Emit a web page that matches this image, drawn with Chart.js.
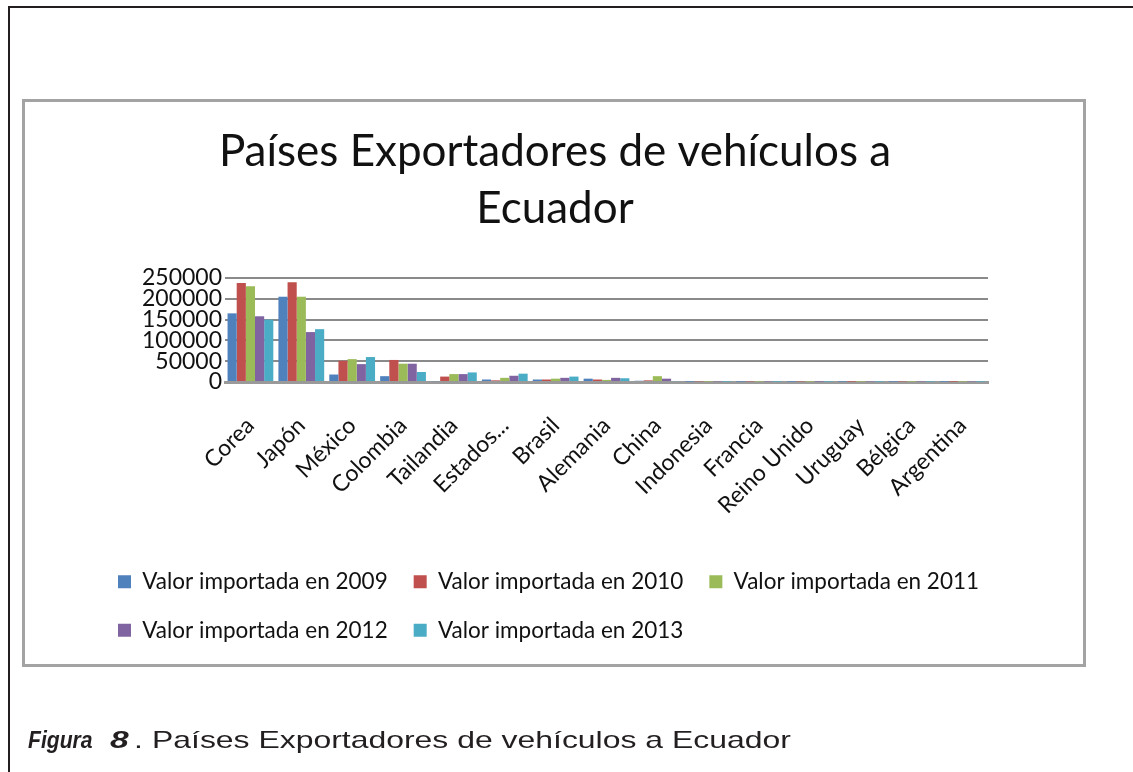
<!DOCTYPE html>
<html lang="es">
<head>
<meta charset="utf-8">
<title>Países Exportadores de vehículos a Ecuador</title>
<script src="https://cdn.jsdelivr.net/npm/chart.js@4.4.1/dist/chart.umd.min.js"></script>
<style>
  html, body { margin: 0; padding: 0; background: #fff; }
  body { width: 1133px; height: 772px; position: relative; overflow: hidden; font-family: 'Liberation Sans', Arial, sans-serif; color: #231f20; }
  .marco { position: absolute; left: 8px; top: 6px; width: 1300px; height: 900px; border-left: 2px solid #231f20; border-top: 2px solid #231f20; }
  .caja { position: absolute; left: 22px; top: 99px; width: 1064px; height: 568px; box-sizing: border-box; border: 3px solid #a3a3a3; }
  #grafico { position: absolute; left: 0; top: 0; }
  .pie { position: absolute; top: 728px; font-size: 24px; line-height: 24px; white-space: nowrap; transform-origin: left top; }
  .pie.fig { left: 28px; font-weight: bold; font-style: italic; transform: scaleX(0.88); }
  .pie.num { left: 110px; font-weight: bold; font-style: italic; transform: scaleX(1.4); }
  .pie.pto { left: 134px; transform: scaleX(1.33); }
  .pie.txt { left: 152px; transform: scaleX(1.33); }
</style>
</head>
<body>
<div class="marco"></div>
<div class="caja"></div>
<canvas id="grafico" width="1133" height="772"></canvas>
<span class="pie fig">Figura</span>
<span class="pie num">8</span>
<span class="pie pto">.</span>
<span class="pie txt">Países Exportadores de vehículos a Ecuador</span>

<script>
// Datos
const paises = ['Corea', 'Japón', 'México', 'Colombia', 'Tailandia', 'Estados...', 'Brasil',
  'Alemania', 'China', 'Indonesia', 'Francia', 'Reino Unido', 'Uruguay', 'Bélgica', 'Argentina'];

const valor2009 = [165000, 205000, 18000, 14000, 2000, 6000, 6000, 8000, 3000, 1000, 1000, 1000, 1000, 1000, 1000];
const valor2010 = [238000, 240000, 51000, 53000, 13000, 4000, 6000, 6000, 4000, 1500, 1500, 1500, 1000, 1500, 1000];
const valor2011 = [230000, 205000, 55000, 44000, 19000, 10000, 8000, 5000, 14000, 1000, 1000, 1000, 1000, 1000, 1000];
const valor2012 = [158000, 120000, 43000, 44000, 19000, 15000, 10000, 10000, 8000, 1500, 1500, 1000, 1500, 1500, 1500];
const valor2013 = [150000, 127000, 60000, 24000, 23000, 20000, 13000, 9000, 2000, 1000, 1000, 1000, 1000, 1000, 1000];

const ticksEje = [0, 50000, 100000, 150000, 200000, 250000];

const series = [
  { label: 'Valor importada en 2009', data: valor2009, color: '#4F81BD' },
  { label: 'Valor importada en 2010', data: valor2010, color: '#C0504D' },
  { label: 'Valor importada en 2011', data: valor2011, color: '#9BBB59' },
  { label: 'Valor importada en 2012', data: valor2012, color: '#8064A2' },
  { label: 'Valor importada en 2013', data: valor2013, color: '#4BACC6' }
];

Chart.defaults.font.family = 'Lato, "Open Sans", sans-serif';
Chart.defaults.color = '#111';

const ctx = document.getElementById('grafico').getContext('2d');

new Chart(ctx, {
  type: 'bar',
  data: {
    labels: paises,
    datasets: series.map(s => ({
      label: s.label,
      data: s.data,
      backgroundColor: s.color,
      borderWidth: 0,
      categoryPercentage: 0.9,
      barPercentage: 1.0
    }))
  },
  options: {
    responsive: false,
    animation: false,
    layout: {
      padding: { left: 92, right: 115, top: 0, bottom: 120.5 }
    },
    scales: {
      x: {
        grid: { display: false },
        border: { display: true, color: '#9a9a9a', width: 3 },
        ticks: {
          autoSkip: false,
          maxRotation: 45,
          minRotation: 45,
          padding: 22,
          font: { size: 23 }
        },
        afterFit: scale => { scale.height = 162.5; }
      },
      y: {
        min: ticksEje[0],
        max: ticksEje[ticksEje.length - 1],
        grid: { color: '#8a8a8a', lineWidth: 2, drawTicks: false },
        border: { display: false },
        ticks: {
          stepSize: ticksEje[1] - ticksEje[0],
          autoSkip: false,
          padding: 3,
          font: { size: 23 },
          callback: value => String(value)
        },
        afterFit: scale => { scale.width = 133; }
      },
      derecha: {
        type: 'linear',
        position: 'right',
        display: true,
        grid: { display: false },
        border: { display: false },
        ticks: { display: false },
        afterFit: scale => { scale.width = 30; }
      }
    },
    plugins: {
      title: {
        display: true,
        text: ['Países Exportadores de vehículos a', 'Ecuador'],
        color: '#111',
        font: { size: 44, weight: 'normal', lineHeight: '57px' },
        padding: { top: 123.5, bottom: 40.5 }
      },
      legend: {
        position: 'bottom',
        align: 'start',
        labels: {
          boxWidth: 13,
          boxHeight: 13,
          padding: 26,
          color: '#111',
          font: { size: 22.5 }
        }
      },
      tooltip: { enabled: false }
    }
  }
});
</script>
</body>
</html>
